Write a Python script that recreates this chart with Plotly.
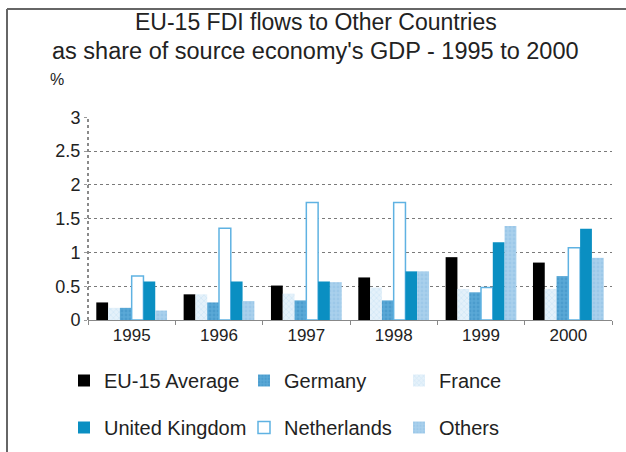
import plotly.graph_objects as go

years = ["1995", "1996", "1997", "1998", "1999", "2000"]
eu15_average = [0.26, 0.38, 0.51, 0.63, 0.93, 0.85]
france = [0.18, 0.38, 0.39, 0.48, 0.46, 0.46]
germany = [0.18, 0.26, 0.29, 0.29, 0.41, 0.65]
netherlands = [0.65, 1.36, 1.74, 1.74, 0.48, 1.07]
united_kingdom = [0.57, 0.57, 0.57, 0.72, 1.15, 1.35]
others = [0.14, 0.28, 0.56, 0.72, 1.39, 0.92]
y_ticks = [0, 0.5, 1, 1.5, 2, 2.5, 3]
y_ticklabels = ["0", "0.5", "1", "1.5", "2", "2.5", "3"]

FONT = "Liberation Sans, Arial, sans-serif"
W, H = 626, 452

fig = go.Figure()

def add(name, vals, color, legend, rank, pattern=None, line_color=None, line_width=0):
    marker = dict(color=color, line=dict(color=line_color or color, width=line_width))
    if pattern:
        marker["pattern"] = pattern
    fig.add_trace(go.Bar(
        x=years, y=vals, name=name, marker=marker,
        legend=legend, legendrank=rank, legendgroup=name,
    ))

add("EU-15 Average", eu15_average, "#000000", "legend", 1)
add("France", france, "#e4f1fa", "legend3", 1,
    pattern=dict(shape="x", fgcolor="#b9d9ef", size=4, solidity=0.3))
add("Germany", germany, "#5aa8d6", "legend2", 1,
    pattern=dict(shape=".", fgcolor="#3b8fc4", size=4, solidity=0.4))
add("Netherlands", netherlands, "#ffffff", "legend2", 2,
    line_color="#5fb2e2", line_width=1.5)
add("United Kingdom", united_kingdom, "#0a8fc2", "legend", 2)
add("Others", others, "#a9d0ec", "legend3", 2,
    pattern=dict(shape=".", fgcolor="#8fbfe3", size=4, solidity=0.4))

leg_common = dict(
    orientation="v", yanchor="top", yref="container", y=1 - 361 / H,
    xanchor="left", xref="container",
    font=dict(family=FONT, size=20, color="#222222"),
    tracegroupgap=18, bgcolor="rgba(0,0,0,0)", itemclick=False,
)

def cx(px):
    return (px - 88) / 524

def cy(py):
    return (320 - py) / 203

fig.update_layout(
    width=W, height=H,
    paper_bgcolor="white", plot_bgcolor="white",
    margin=dict(l=88, r=14, t=117, b=132, autoexpand=False),
    barmode="group", bargap=0.19, bargroupgap=0.0,
    font=dict(family=FONT, size=16, color="#222222"),
    showlegend=True,
    legend=dict(x=64 / W, **leg_common),
    legend2=dict(x=244 / W, **leg_common),
    legend3=dict(x=399 / W, **leg_common),
    xaxis=dict(
        showline=True, linecolor="#888888", linewidth=1,
        ticks="outside", tickson="boundaries", ticklen=4, tickcolor="#888888",
        tickfont=dict(family=FONT, size=17, color="#222222"),
        showgrid=False,
    ),
    yaxis=dict(
        range=[0, 3.005], tickvals=y_ticks, ticktext=y_ticklabels,
        showline=False,
        ticks="outside", ticklen=3, tickcolor="#999999",
        showgrid=True, gridcolor="#7a7a7a", griddash="dot", gridwidth=1,
        tickfont=dict(family=FONT, size=18, color="#222222"),
        zeroline=False, fixedrange=True,
    ),
    annotations=[
        dict(text="EU-15 FDI flows to Other Countries", xref="paper", yref="paper",
             x=cx(316), y=cy(22), xanchor="center", yanchor="middle", showarrow=False,
             font=dict(family=FONT, size=23, color="#222222")),
        dict(text="as share of source economy's GDP - 1995 to 2000", xref="paper", yref="paper",
             x=cx(315), y=cy(51), xanchor="center", yanchor="middle", showarrow=False,
             font=dict(family=FONT, size=23.5, color="#222222")),
        dict(text="%", xref="paper", yref="paper", x=cx(57), y=cy(80),
             xanchor="center", yanchor="middle", showarrow=False,
             font=dict(family=FONT, size=16, color="#222222")),
    ],
    shapes=[
        dict(type="line", xref="paper", yref="paper",
             x0=0, x1=0, y0=0, y1=1,
             line=dict(color="#8a8a8a", width=2, dash="dot")),
        dict(type="line", xref="paper", yref="paper",
             x0=cx(7), x1=cx(626), y0=cy(9), y1=cy(9),
             line=dict(color="#666666", width=2)),
        dict(type="line", xref="paper", yref="paper",
             x0=cx(7), x1=cx(7), y0=cy(9), y1=cy(452),
             line=dict(color="#666666", width=2)),
    ],
)

fig.write_html("out.html", config={"displayModeBar": False},
               post_script="document.body.style.margin='0px';")
